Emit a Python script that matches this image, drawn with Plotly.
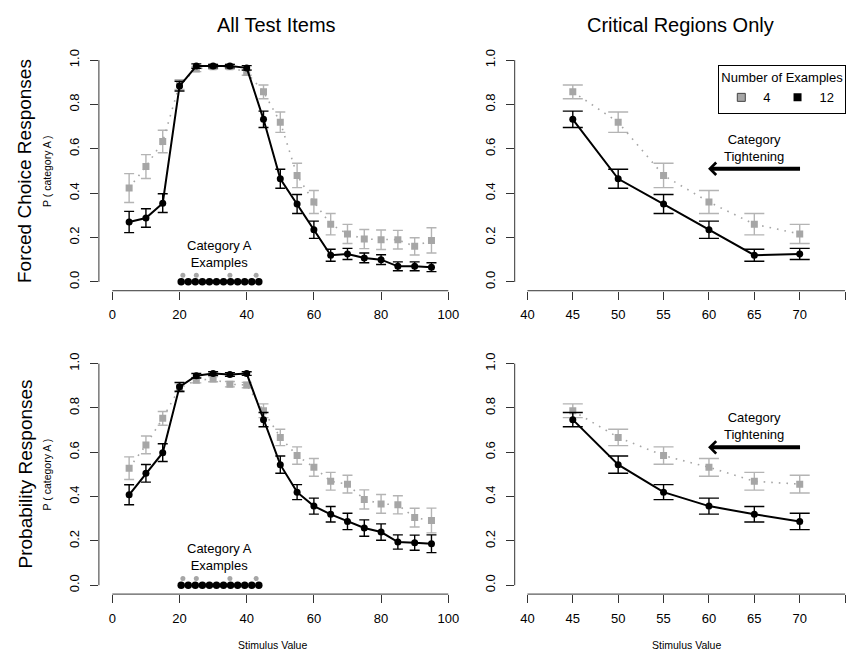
import plotly.graph_objects as go

# ---------------- data ----------------
stim = [5, 10, 15, 20, 25, 30, 35, 40, 45, 50, 55, 60, 65, 70, 75, 80, 85, 90, 95]

fc_12 = [0.270, 0.288, 0.355, 0.883, 0.973, 0.973, 0.973, 0.965, 0.733, 0.465, 0.351, 0.235,
         0.120, 0.126, 0.108, 0.100, 0.070, 0.070, 0.066]
fc_12_se = [0.048, 0.042, 0.042, 0.022, 0.010, 0.008, 0.008, 0.010, 0.037, 0.043, 0.043, 0.039,
            0.027, 0.025, 0.022, 0.022, 0.020, 0.020, 0.020]
fc_4 = [0.423, 0.520, 0.633, 0.890, 0.960, 0.970, 0.970, 0.944, 0.857, 0.720, 0.480, 0.360,
        0.260, 0.216, 0.193, 0.190, 0.190, 0.160, 0.187]
fc_4_se = [0.065, 0.054, 0.051, 0.022, 0.012, 0.010, 0.010, 0.012, 0.031, 0.046, 0.055, 0.052,
           0.048, 0.043, 0.043, 0.044, 0.042, 0.039, 0.057]

pr_12 = [0.408, 0.505, 0.598, 0.895, 0.945, 0.955, 0.951, 0.955, 0.747, 0.544, 0.420, 0.357,
         0.320, 0.288, 0.258, 0.240, 0.195, 0.192, 0.187]
pr_12_se = [0.045, 0.040, 0.040, 0.020, 0.010, 0.008, 0.008, 0.008, 0.032, 0.039, 0.034, 0.036,
            0.035, 0.037, 0.037, 0.037, 0.032, 0.034, 0.040]
pr_4 = [0.528, 0.633, 0.753, 0.890, 0.925, 0.930, 0.907, 0.903, 0.787, 0.667, 0.585, 0.532,
        0.469, 0.456, 0.387, 0.367, 0.363, 0.305, 0.292]
pr_4_se = [0.051, 0.040, 0.031, 0.020, 0.012, 0.012, 0.012, 0.012, 0.031, 0.037, 0.039, 0.040,
           0.040, 0.040, 0.043, 0.042, 0.041, 0.042, 0.056]

critical_lo, critical_hi = 45, 70

examples_12 = [20.5, 22.6, 24.7, 26.8, 28.9, 31.0, 33.1, 35.2, 37.3, 39.4, 41.5, 43.6]
examples_4 = [21.0, 25.0, 35.0, 42.8]

x_ticks_all = [0, 20, 40, 60, 80, 100]
x_ticks_crit = [40, 45, 50, 55, 60, 65, 70, 75]
y_ticks = [0.0, 0.2, 0.4, 0.6, 0.8, 1.0]

titles = ["All Test Items", "Critical Regions Only"]
row_titles = ["Forced Choice Responses", "Probability Responses"]
legend_labels = ["4", "12"]

# ---------------- style ----------------
W, H = 852, 658
GRAY = "#a6a6a6"
GRAY_ERR = "#b4b4b4"
FONT = "Liberation Sans, Arial, Helvetica, sans-serif"

def px_x(p):
    return p / W

def px_y(p):
    return 1 - p / H

dom_x_left = [px_x(98.9), px_x(461.7)]
dom_x_right = [px_x(514.7), 1.0]
dom_y_top = [px_y(289.6), px_y(49.4)]
dom_y_bot = [px_y(593.9), px_y(353.8)]

fig = go.Figure()

panels = [
    ("x", "y", fc_4, fc_4_se, fc_12, fc_12_se, 5, False),
    ("x2", "y2", fc_4, fc_4_se, fc_12, fc_12_se, 10, True),
    ("x3", "y3", pr_4, pr_4_se, pr_12, pr_12_se, 5, False),
    ("x4", "y4", pr_4, pr_4_se, pr_12, pr_12_se, 10, True),
]

for xa, ya, y4, s4, y12, s12, cap, crit in panels:
    if crit:
        idx = [i for i, v in enumerate(stim) if critical_lo <= v <= critical_hi]
    else:
        idx = list(range(len(stim)))
    xs = [stim[i] for i in idx]
    fig.add_trace(go.Scatter(
        x=xs, y=[y4[i] for i in idx], xaxis=xa, yaxis=ya, mode="lines+markers",
        line=dict(color=GRAY, width=1.6, dash="1.6px,6px"),
        marker=dict(symbol="square", size=7, color=GRAY),
        error_y=dict(type="data", array=[s4[i] for i in idx], color=GRAY_ERR,
                     thickness=1.4, width=cap),
        showlegend=False, hoverinfo="skip"))
    fig.add_trace(go.Scatter(
        x=xs, y=[y12[i] for i in idx], xaxis=xa, yaxis=ya, mode="lines+markers",
        line=dict(color="black", width=2),
        marker=dict(symbol="circle", size=7, color="black"),
        error_y=dict(type="data", array=[s12[i] for i in idx], color="black",
                     thickness=1.4, width=cap),
        showlegend=False, hoverinfo="skip"))
    if not crit:
        fig.add_trace(go.Scatter(
            x=examples_4, y=[0.03] * len(examples_4), xaxis=xa, yaxis=ya, mode="markers",
            marker=dict(symbol="circle", size=5, color=GRAY),
            showlegend=False, hoverinfo="skip"))
        fig.add_trace(go.Scatter(
            x=examples_12, y=[0.0] * len(examples_12), xaxis=xa, yaxis=ya, mode="markers",
            marker=dict(symbol="circle", size=7.5, color="black"),
            showlegend=False, hoverinfo="skip"))
        fig.add_annotation(x=31.8, y=0.127, xref=xa, yref=ya, text="Category A<br>Examples",
                           xanchor="center", yanchor="middle",
                           showarrow=False, font=dict(size=13, family=FONT))
    else:
        ty = 0.605 if ya == "y2" else 0.7175
        ay = 0.51 if ya == "y2" else 0.622
        fig.add_annotation(x=65.0, y=ty, xref=xa, yref=ya, text="Category<br>Tightening",
                           xanchor="center", yanchor="middle",
                           showarrow=False, font=dict(size=13, family=FONT))
        fig.add_annotation(x=59.9, y=ay, xref=xa, yref=ya, ax=70.2, ay=ay,
                           axref=xa, ayref=ya, text="", showarrow=True,
                           arrowhead=4, arrowsize=0.6, arrowwidth=4, arrowcolor="black")

# legend entries
fig.add_trace(go.Scatter(x=[None], y=[None], xaxis="x2", yaxis="y2", mode="markers",
                         name=legend_labels[0],
                         marker=dict(symbol="square", size=8, color=GRAY,
                                     line=dict(color="#444", width=1))))
fig.add_trace(go.Scatter(x=[None], y=[None], xaxis="x2", yaxis="y2", mode="markers",
                         name=legend_labels[1],
                         marker=dict(symbol="square", size=8, color="black")))

axis_common = dict(showgrid=False, zeroline=False, showline=False, ticks="outside",
                   ticklen=8, tickwidth=1, tickcolor="#333", fixedrange=True,
                   tickfont=dict(size=13, family=FONT, color="black"))
xaxis_extra = dict(ticklabelstandoff=4)
yaxis_extra = dict(ticklabelstandoff=6, tickangle=-90, tickformat=".1f")

fig.update_layout(
    width=W, height=H, margin=dict(l=0, r=0, t=0, b=0),
    plot_bgcolor="white", paper_bgcolor="white",
    font=dict(family=FONT, size=13, color="black"),
    xaxis=dict(domain=dom_x_left, range=[-4, 104], tickvals=x_ticks_all, anchor="y",
               **axis_common, **xaxis_extra),
    yaxis=dict(domain=dom_y_top, range=[-0.04, 1.04], tickvals=y_ticks, anchor="x",
               **axis_common, **yaxis_extra),
    xaxis2=dict(domain=dom_x_right, range=[38.6, 75.76], tickvals=x_ticks_crit, anchor="y2",
                **axis_common, **xaxis_extra),
    yaxis2=dict(domain=dom_y_top, range=[-0.04, 1.04], tickvals=y_ticks, anchor="x2",
                **axis_common, **yaxis_extra),
    xaxis3=dict(domain=dom_x_left, range=[-4, 104], tickvals=x_ticks_all, anchor="y3",
                **axis_common, **xaxis_extra),
    yaxis3=dict(domain=dom_y_bot, range=[-0.04, 1.04], tickvals=y_ticks, anchor="x3",
                **axis_common, **yaxis_extra),
    xaxis4=dict(domain=dom_x_right, range=[38.6, 75.76], tickvals=x_ticks_crit, anchor="y4",
                **axis_common, **xaxis_extra),
    yaxis4=dict(domain=dom_y_bot, range=[-0.04, 1.04], tickvals=y_ticks, anchor="x4",
                **axis_common, **yaxis_extra),
    showlegend=True,
    legend=dict(x=px_x(718.3), y=px_y(62.7), xanchor="left", yanchor="top",
                orientation="h", bordercolor="black", borderwidth=1, bgcolor="white",
                font=dict(size=13, family=FONT),
                title=dict(text="Number of Examples", side="top center",
                           font=dict(size=13, family=FONT)),
                itemwidth=34, tracegroupgap=0),
)

# R-style detached axis lines spanning first..last tick
shape_line = dict(color="#333", width=1)
for xa, ya, xt in [("x", "y", x_ticks_all), ("x2", "y2", x_ticks_crit),
                   ("x3", "y3", x_ticks_all), ("x4", "y4", x_ticks_crit)]:
    fig.add_shape(type="line", xref=xa, yref=ya + " domain", x0=xt[0], x1=xt[-1], y0=0, y1=0,
                  line=shape_line)
    fig.add_shape(type="line", xref=xa + " domain", yref=ya, x0=0, x1=0, y0=y_ticks[0],
                  y1=y_ticks[-1], line=shape_line)

# titles and labels
def label(xp, yp, text, size, angle=0):
    fig.add_annotation(x=px_x(xp), y=px_y(yp), xref="paper", yref="paper", text=text,
                       xanchor="center", yanchor="middle", textangle=angle,
                       showarrow=False, font=dict(size=size, family=FONT))

label(276, 23, titles[0], 20)
label(680, 23, titles[1], 20)
for yc, t in [(169.5, row_titles[0]), (473.9, row_titles[1])]:
    label(25, yc, t, 19, -90)
    label(47, yc, "P ( category A )", 10.5, -90)
for xc in [272, 686]:
    label(xc, 645, "Stimulus Value", 10.5)

fig.write_html("out.html")
